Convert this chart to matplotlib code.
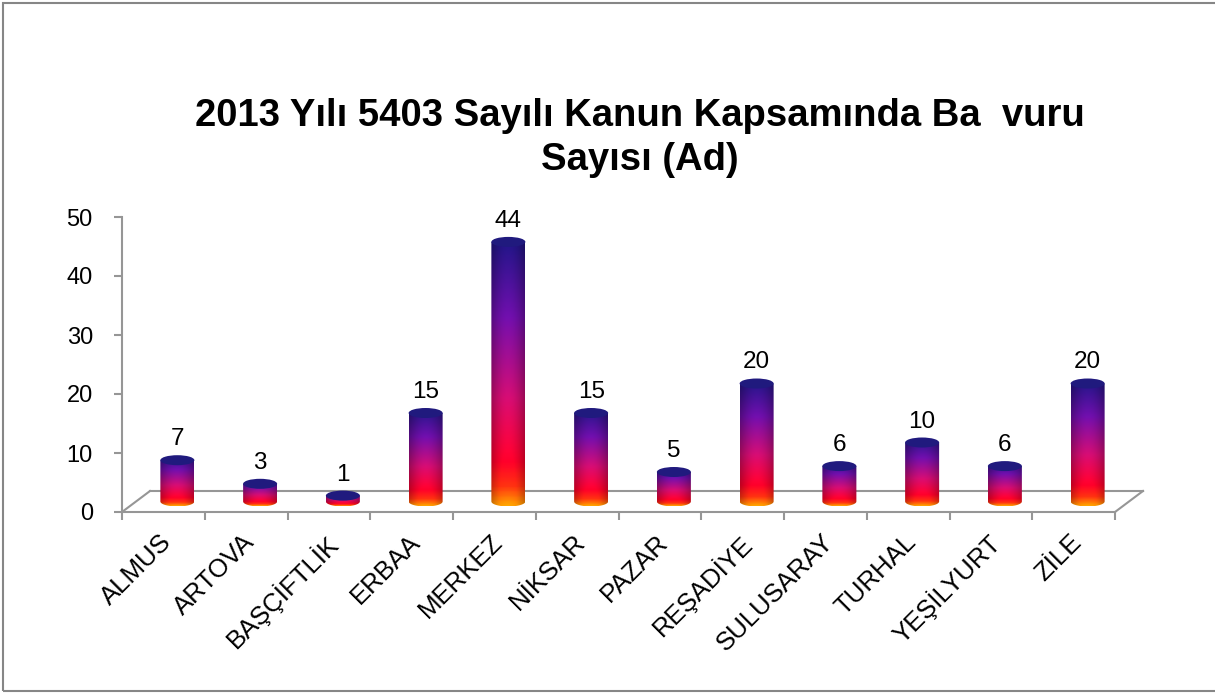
import matplotlib.pyplot as plt
import matplotlib.transforms as mtransforms
import numpy as np
from matplotlib.colors import LinearSegmentedColormap
from matplotlib.patches import Ellipse, PathPatch, Rectangle
from matplotlib.path import Path

plt.rcParams['font.family'] = ['Liberation Sans', 'DejaVu Sans']

districts = ['ALMUS', 'ARTOVA', 'BAŞÇİFTLİK', 'ERBAA', 'MERKEZ', 'NİKSAR',
             'PAZAR', 'REŞADİYE', 'SULUSARAY', 'TURHAL', 'YEŞİLYURT', 'ZİLE']
counts = [7, 3, 1, 15, 44, 15, 5, 20, 6, 10, 6, 20]
y_ticks = [0, 10, 20, 30, 40, 50]
title = '2013 Yılı 5403 Sayılı Kanun Kapsamında Ba  vuru\nSayısı (Ad)'

# bar gradient, bottom -> top
bar_cmap = LinearSegmentedColormap.from_list('cyl', [
    (0.0, '#ff9a00'), (0.07, '#ff3010'), (0.16, '#f50028'),
    (0.40, '#c80c6c'), (0.70, '#6a0ea2'), (1.0, '#1a147c')])

W, H = 1215, 693
fig = plt.figure(figsize=(W / 100, H / 100), dpi=100)
ax = fig.add_axes([122 / W, 181 / H, 993 / W, 295 / H])

n = len(districts)
px_x = 993 / n          # pixels per category
px_y = 295 / 50         # pixels per unit
depth_x = 28 / px_x     # floor depth, data units
depth_y = 21 / px_y
bar_w = 34 / px_x
ell_h = 10 / px_y

gray = '#969696'
# floor
ax.plot([0, depth_x], [0, depth_y], color=gray, lw=1.5, clip_on=False)
ax.plot([depth_x, n + depth_x], [depth_y, depth_y], color=gray, lw=1.5, clip_on=False)
ax.plot([n, n + depth_x], [0, depth_y], color=gray, lw=1.5, clip_on=False)

u = np.linspace(0, 1, 60)
shade = 0.78 + 0.3 * np.sin(np.pi * u)
for i, v in enumerate(counts):
    cx = i + 0.5 + depth_x / 2
    base = depth_y / 2
    top = base + v
    x0, x1 = cx - bar_w / 2, cx + bar_w / 2
    y0, y1 = base - ell_h / 2, top + ell_h / 2

    grad = bar_cmap(np.linspace(0, 1, 200))[:, :3]
    img = np.clip(grad[:, None, :] * shade[None, :, None], 0, 1)

    t = np.linspace(np.pi, 2 * np.pi, 40)
    verts = [(cx + bar_w / 2 * np.cos(a), base + ell_h / 2 * np.sin(a)) for a in t]
    verts += [(x1, top), (x0, top), verts[0]]
    clip = PathPatch(Path(verts, closed=True), transform=ax.transData)
    im = ax.imshow(img, extent=[x0, x1, y0, y1], origin='lower',
                   aspect='auto', interpolation='bilinear', zorder=3)
    im.set_clip_path(clip)
    ax.add_patch(Ellipse((cx, top), bar_w, ell_h, facecolor='#201a7e',
                         edgecolor='none', zorder=4))
    ax.text(cx, top + ell_h / 2, str(v), ha='center', va='bottom',
            fontsize=17.5, zorder=5,
            transform=ax.transData + mtransforms.ScaledTranslation(0, 5 / 100, fig.dpi_scale_trans))

lab_tr = ax.transData + mtransforms.ScaledTranslation(-4 / 100, -18 / 100, fig.dpi_scale_trans)
for i, name in enumerate(districts):
    ax.text(i + 0.5, 0, name, transform=lab_tr, rotation=45, ha='right',
            va='top', rotation_mode='anchor', fontsize=18.5)

ax.set_xlim(0, n)
ax.set_ylim(0, 50)
ax.set_xticks(range(n + 1))
ax.set_xticklabels([])
ax.set_yticks(y_ticks)
ax.tick_params(axis='y', direction='out', length=6, width=1.5, color=gray,
               labelsize=17, pad=15)
ax.tick_params(axis='x', direction='out', length=6, width=1.5, color=gray)
for s in ['top', 'right']:
    ax.spines[s].set_visible(False)
for s in ['left', 'bottom']:
    ax.spines[s].set_color(gray)
    ax.spines[s].set_linewidth(1.5)
ax.patch.set_alpha(0)

fig.text(640 / W, 1 - 138 / H, title, ha='center', va='center',
         fontsize=27.5, fontweight='bold', linespacing=1.3)

fig.add_artist(Rectangle((3 / W, 2 / H), 1.2, 688 / H, transform=fig.transFigure,
                         fill=False, edgecolor='#868686', lw=1.5))

fig.savefig('out.png', dpi=100)
